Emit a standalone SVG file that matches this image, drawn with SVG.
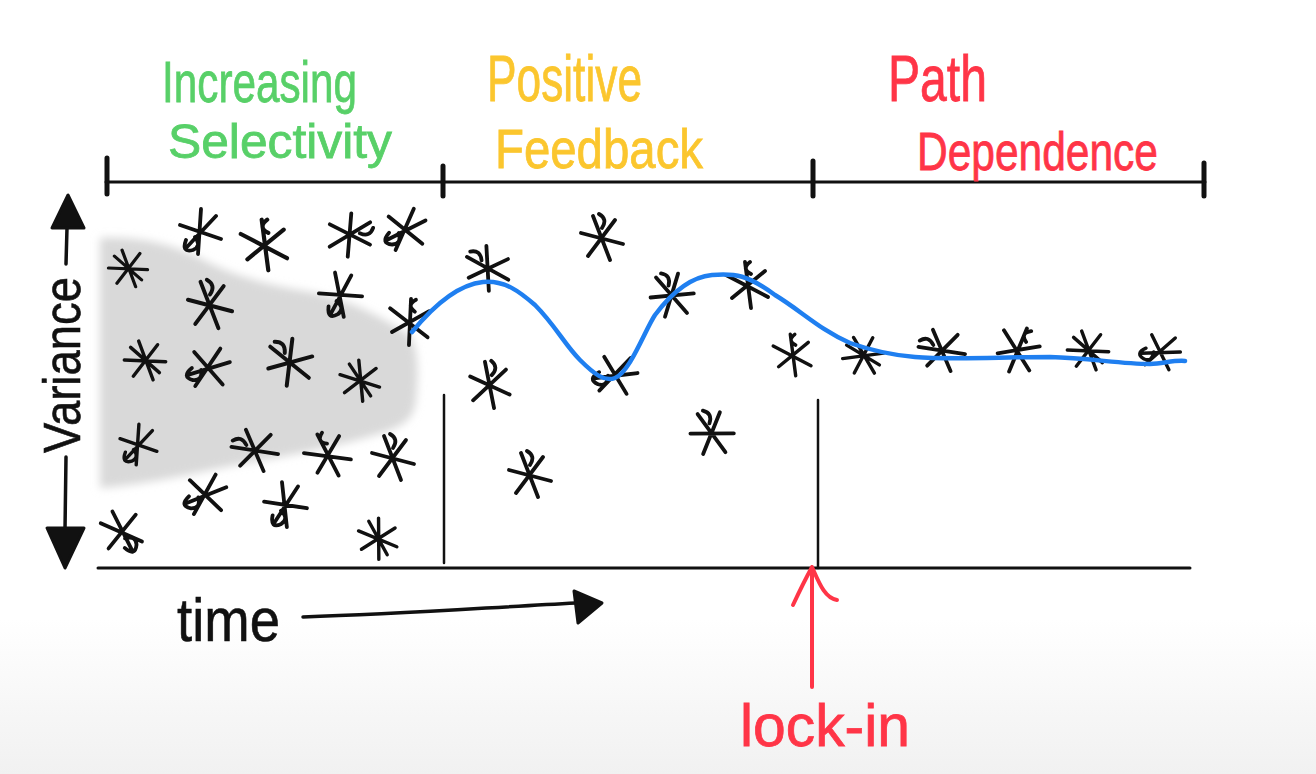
<svg xmlns="http://www.w3.org/2000/svg" width="1316" height="774" viewBox="0 0 1316 774">
<style>
.ink{fill:none;stroke:#111;stroke-linecap:round;stroke-linejoin:round}
.ast{fill:none;stroke:#111;stroke-width:3.8;stroke-linecap:round;stroke-linejoin:round}
.hand{font-family:"Liberation Sans","DejaVu Sans",sans-serif;font-weight:normal}
.green{fill:#58d068;stroke:#58d068;stroke-width:0.8}
.yellow{fill:#fbc62e;stroke:#fbc62e;stroke-width:0.8}
.red{fill:#ff3547;stroke:#ff3547;stroke-width:0.8}
.black{fill:#111;stroke:#111;stroke-width:0.6}
</style>
<defs>
<linearGradient id="bg" x1="0" y1="0" x2="0" y2="1">
<stop offset="0" stop-color="#ffffff"/>
<stop offset="0.8" stop-color="#ffffff"/>
<stop offset="1" stop-color="#f1f1f1"/>
</linearGradient>
<filter id="soft" x="-10%" y="-10%" width="120%" height="120%"><feGaussianBlur stdDeviation="4"/></filter>
<path id="a1" class="ast" d="M-21,-5 L21,6 M-9,-22 L8,22 M13,-18 L-14,18 M-3,-24 Q6,-19 0,-10"/>
<path id="a2" class="ast" d="M-23,0 L23,2 M-7,-21 L9,22 M14,-17 L-13,18 M-16,-14 L16,14"/>
<path id="a3" class="ast" d="M-20,-7 L21,7 M1,-23 L-2,22 M16,-16 L-14,16 M-14,8 Q-19,21 -7,18 Q2,14 -5,5"/>
<path id="a4" class="ast" d="M-22,-10 L20,12 M-3,-23 L3,23 M17,-14 L-16,13 M2,-23 Q-7,-16 3,-11"/>
</defs>
<rect width="1316" height="774" fill="url(#bg)"/>

<g id="shaded-region">
<path d="M100,238 C140,236 170,244 200,258 C230,275 270,286 310,292 C350,300 380,316 408,334 C420,345 418,380 416,400 C414,418 405,425 385,432 C340,446 290,456 240,464 C200,472 150,484 100,488 Z" fill="#d9d9d9" filter="url(#soft)"/>
</g>

<g id="timeline">
<path class="ink" stroke-width="3" d="M106,182 L1205,182"/>
<path class="ink" stroke-width="5" d="M107,158 L107,194 M443,166 L443,196 M813,161 L813,196 M1204,163 L1204,196"/>
</g>

<g id="axes">
<path class="ink" stroke-width="3" d="M98,568 L1190,568"/>
<path class="ink" stroke-width="2.5" d="M444,395 L444,563 M818,400 L818,568"/>
</g>

<g id="variance-axis">
<path class="ink" stroke-width="3.5" d="M67,228 L66,264 M66,457 L65,530"/>
<path d="M68,195 L52,228 L84,228 Z" fill="#111" stroke="#111" stroke-width="3" stroke-linejoin="round"/>
<path d="M65,568 L47,528 L84,528 Z" fill="#111" stroke="#111" stroke-width="3" stroke-linejoin="round"/>
<text class="hand black" transform="translate(80,365) rotate(-90)" font-size="52" text-anchor="middle" textLength="176" lengthAdjust="spacingAndGlyphs">Variance</text>
</g>

<g id="labels">
<text class="hand green" x="162" y="102" font-size="58" textLength="195" lengthAdjust="spacingAndGlyphs">Increasing</text>
<text class="hand green" x="168" y="158" font-size="48" textLength="224" lengthAdjust="spacingAndGlyphs">Selectivity</text>
<text class="hand yellow" x="487" y="101" font-size="64" textLength="155" lengthAdjust="spacingAndGlyphs">Positive</text>
<text class="hand yellow" x="495" y="168" font-size="56" textLength="208" lengthAdjust="spacingAndGlyphs">Feedback</text>
<text class="hand red" x="888" y="101" font-size="64" textLength="99" lengthAdjust="spacingAndGlyphs">Path</text>
<text class="hand red" x="917" y="170" font-size="54" textLength="241" lengthAdjust="spacingAndGlyphs">Dependence</text>
</g>

<g id="stars">
<use href="#a2" transform="translate(128,268) scale(0.85)"/>
<use href="#a3" transform="translate(200,232)"/>
<use href="#a4" transform="translate(265,245) scale(1.1)"/>
<use href="#a1" transform="translate(350,235) rotate(80)"/>
<use href="#a3" transform="translate(405,230) rotate(20)"/>
<use href="#a1" transform="translate(210,305) scale(1.05)"/>
<use href="#a3" transform="translate(340,295) rotate(-15)"/>
<use href="#a4" transform="translate(410,322) rotate(10)"/>
<use href="#a2" transform="translate(145,360) scale(0.9)"/>
<use href="#a3" transform="translate(208,368) rotate(30)"/>
<use href="#a1" transform="translate(290,362) rotate(-30) scale(1.05)"/>
<use href="#a2" transform="translate(360,380) rotate(15) scale(0.9)"/>
<use href="#a3" transform="translate(138,445) scale(0.9)"/>
<use href="#a1" transform="translate(255,450) rotate(-60)"/>
<use href="#a4" transform="translate(328,455) rotate(-20)"/>
<use href="#a1" transform="translate(393,458)"/>
<use href="#a3" transform="translate(205,495) rotate(25)"/>
<use href="#a3" transform="translate(285,505) rotate(-10)"/>
<use href="#a3" transform="translate(122,532) rotate(-70)"/>
<use href="#a2" transform="translate(378,538) rotate(20) scale(0.9)"/>
<use href="#a1" transform="translate(488,268) rotate(-40)"/>
<use href="#a1" transform="translate(602,238)"/>
<use href="#a1" transform="translate(490,385) rotate(10)"/>
<use href="#a3" transform="translate(615,375) rotate(40)"/>
<use href="#a1" transform="translate(530,475)"/>
<use href="#a1" transform="translate(672,295) rotate(-20)"/>
<use href="#a4" transform="translate(748,285)"/>
<use href="#a1" transform="translate(712,433) rotate(-15)"/>
<use href="#a4" transform="translate(793,355) scale(0.9)"/>
<use href="#a2" transform="translate(863,355) rotate(-10) scale(0.9)"/>
<use href="#a1" transform="translate(942,350) rotate(-60)"/>
<use href="#a4" transform="translate(1018,350) rotate(30)"/>
<use href="#a2" transform="translate(1088,350) scale(0.9)"/>
<use href="#a3" transform="translate(1160,352) rotate(45) scale(0.9)"/>
</g>

<g id="trajectory">
<path d="M412,332 C430,310 455,285 483,282 C505,280 520,292 535,305 C555,325 565,345 580,360 C595,375 605,382 615,378 C630,372 645,330 655,315 C670,295 690,277 712,275 C735,273 748,275 775,295 C800,310 820,330 850,343 C870,350 890,355 915,357 C950,360 1000,357 1050,357 C1090,358 1120,364 1150,364 C1165,363 1175,360 1185,361" fill="none" stroke="#1f7ff0" stroke-width="4.5" stroke-linecap="round"/>
</g>

<g id="time-label">
<text class="hand black" x="177" y="641" font-size="62" textLength="103" lengthAdjust="spacingAndGlyphs">time</text>
<path class="ink" stroke-width="3.5" d="M303,617 C400,614 480,608 576,603"/>
<path d="M602,603 L574,591 L578,623 Z" fill="#111" stroke="#111" stroke-width="3" stroke-linejoin="round"/>
</g>

<g id="lock-in">
<path fill="none" stroke="#ff3547" stroke-width="4" stroke-linecap="round" stroke-linejoin="round" d="M812,687 L812,567 M793,605 C800,590 806,578 812,567 C818,580 824,598 837,600"/>
<text class="hand red" x="740" y="746" font-size="60" textLength="170" lengthAdjust="spacingAndGlyphs">lock-in</text>
</g>
</svg>
